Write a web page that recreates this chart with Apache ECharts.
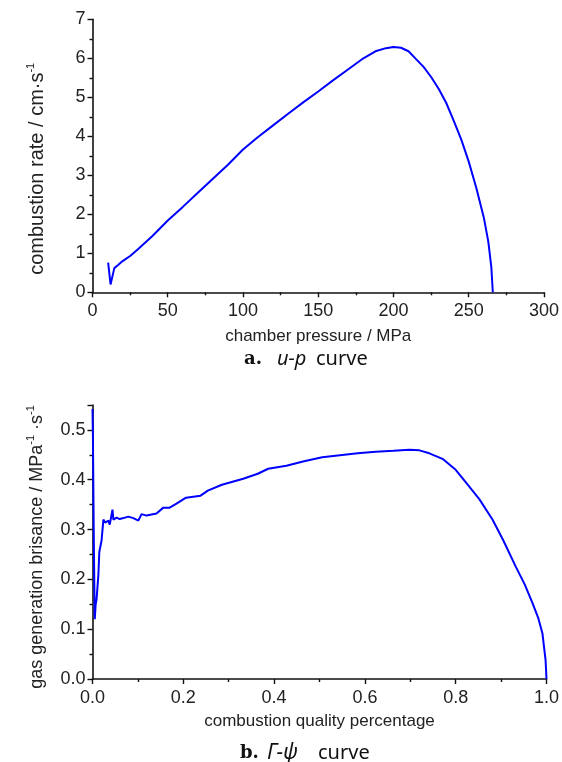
<!DOCTYPE html>
<html>
<head>
<meta charset="utf-8">
<script src="https://cdn.jsdelivr.net/npm/echarts@6/dist/echarts.min.js"></script>
<style>
html,body{margin:0;padding:0;background:#fff;}
#c{width:562px;height:762px;}
</style>
</head>
<body>
<div id="c"></div>
<script>
// Chart a: u-p curve
const pressureA = [10.4, 12, 14.5, 17, 20, 25, 30, 40, 50, 60, 70, 80, 90, 100, 110, 120, 130, 140, 150, 160, 170, 180, 188, 195, 200, 205, 210, 215, 220, 225, 230, 235, 240, 245, 250, 255, 260, 263, 265, 266];
const rateA = [0.76, 0.2, 0.62, 0.70, 0.80, 0.93, 1.10, 1.45, 1.84, 2.19, 2.55, 2.91, 3.27, 3.66, 3.98, 4.28, 4.58, 4.87, 5.15, 5.44, 5.72, 6.0, 6.18, 6.26, 6.29, 6.27, 6.18, 5.98, 5.78, 5.52, 5.22, 4.86, 4.40, 3.92, 3.35, 2.68, 1.92, 1.30, 0.65, 0];
// Chart b: Γ-ψ curve
const psiB = [0, 0.001, 0.002, 0.003, 0.004, 0.005, 0.007, 0.009, 0.013, 0.015, 0.02, 0.024, 0.028, 0.035, 0.038, 0.044, 0.046, 0.053, 0.06, 0.068, 0.079, 0.09, 0.101, 0.108, 0.119, 0.141, 0.156, 0.17, 0.185, 0.206, 0.238, 0.254, 0.285, 0.332, 0.364, 0.387, 0.427, 0.466, 0.506, 0.545, 0.584, 0.624, 0.663, 0.698, 0.72, 0.742, 0.771, 0.8, 0.822, 0.852, 0.881, 0.905, 0.932, 0.952, 0.969, 0.982, 0.991, 0.998, 1.0];
const gammaB = [0.542, 0.48, 0.37, 0.27, 0.19, 0.12, 0.15, 0.16, 0.21, 0.255, 0.278, 0.32, 0.314, 0.318, 0.31, 0.34, 0.32, 0.324, 0.321, 0.323, 0.326, 0.323, 0.318, 0.331, 0.328, 0.332, 0.344, 0.344, 0.352, 0.364, 0.368, 0.378, 0.39, 0.402, 0.412, 0.422, 0.428, 0.437, 0.445, 0.449, 0.453, 0.456, 0.458, 0.46, 0.459, 0.453, 0.442, 0.42, 0.395, 0.361, 0.32, 0.278, 0.226, 0.19, 0.153, 0.122, 0.092, 0.038, 0];
const xTicksA = ['0','50','100','150','200','250','300'];
const captionA = ['a.', 'u-p', 'curve'];
const captionB = ['b.', '\u0393-\u03C8', 'curve'];

const FONT = '"Liberation Sans", Arial, sans-serif';
const axisCommon = {
  axisLine:{show:true, onZero:false, lineStyle:{color:'#111', width:1.6}},
  axisTick:{show:true, inside:false, length:5, lineStyle:{color:'#111', width:1.4}},
  minorTick:{show:true, splitNumber:2, length:3, lineStyle:{color:'#111', width:1.4}},
  splitLine:{show:false},
  axisLabel:{color:'#222', fontFamily:FONT, fontSize:18, margin:7},
  nameTextStyle:{color:'#222', fontFamily:FONT, fontSize:17}
};
function mk(extra){ return Object.assign(JSON.parse(JSON.stringify(axisCommon)), extra); }
const supStyle = {fontFamily:FONT, fontSize:11, verticalAlign:'top', padding:[0,0,12,0], color:'#222'};

const chart = echarts.init(document.getElementById('c'), null, {renderer:'canvas'});
const serif = '"DejaVu Serif", "Liberation Serif", serif';
const sans = '"Noto Sans", "DejaVu Sans", sans-serif';
function cap(parts, xs, y, symSize){
  return [
    {type:'text', x:xs[0], y:y, style:{text:parts[0], font:'bold 18px '+serif, fill:'#111', textVerticalAlign:'middle'}},
    {type:'text', x:xs[1], y:y, style:{text:parts[1], font:'italic '+symSize+'px '+sans, fill:'#111', textVerticalAlign:'middle'}},
    {type:'text', x:xs[2], y:y, style:{text:parts[2], font:'20px '+sans, fill:'#111', textVerticalAlign:'middle'}}
  ];
}
chart.setOption({
  animation:false,
  backgroundColor:'#fff',
  grid:[
    {left:92.5, right:15, top:19.3, height:273},
    {left:92.5, right:15, top:405, height:274}
  ],
  xAxis:[
    mk({gridIndex:0, type:'value', min:0, max:300, interval:50,
      name:'chamber pressure / MPa', nameLocation:'middle', nameGap:36,
      axisLabel:Object.assign({}, axisCommon.axisLabel, {margin:10, formatter:(v)=>xTicksA[Math.round(v/50)]})}),
    mk({gridIndex:1, type:'value', min:0, max:1, interval:0.2,
      name:'combustion quality percentage', nameLocation:'middle', nameGap:34,
      axisLabel:Object.assign({}, axisCommon.axisLabel, {margin:10, formatter:(v)=>v.toFixed(1)})})
  ],
  yAxis:[
    mk({gridIndex:0, type:'value', min:0, max:7, interval:1,
      name:'combustion rate / cm\u00B7s{sup|-1}', nameLocation:'middle', nameGap:44,
      nameTextStyle:Object.assign({}, axisCommon.nameTextStyle, {fontSize:20, padding:[0,26,0,0], rich:{sup:supStyle}})}),
    mk({gridIndex:1, type:'value', min:0, max:0.55, interval:0.1,
      name:'gas generation brisance / MPa{sup|-1} \u00B7s{sup|-1}', nameLocation:'middle', nameGap:44,
      nameTextStyle:Object.assign({}, axisCommon.nameTextStyle, {fontSize:18, padding:[0,10,0,0], rich:{sup:supStyle}}),
      axisLabel:Object.assign({}, axisCommon.axisLabel, {formatter:(v)=>Math.abs(v*10-Math.round(v*10))<1e-6 ? v.toFixed(1) : ''})})
  ],
  series:[
    {type:'line', xAxisIndex:0, yAxisIndex:0, showSymbol:false, smooth:false,
     lineStyle:{color:'#0000ff', width:2}, data:pressureA.map((p,i)=>[p, rateA[i]])},
    {type:'line', xAxisIndex:1, yAxisIndex:1, showSymbol:false, smooth:false,
     lineStyle:{color:'#0000ff', width:2}, data:psiB.map((p,i)=>[p, gammaB[i]])}
  ],
  graphic: cap(captionA, [244, 277, 316], 359, 20).concat(cap(captionB, [240, 267, 318], 753, 21))
});
</script>
</body>
</html>
